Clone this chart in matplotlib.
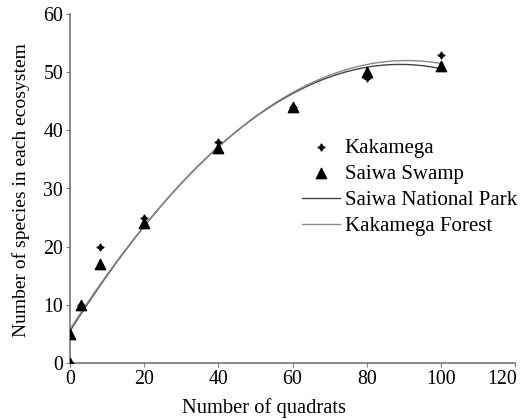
import matplotlib
matplotlib.use("Agg")
import numpy as np
import matplotlib.pyplot as plt
from matplotlib.transforms import ScaledTranslation

# ── Data ──────────────────────────────────────────────────────────────────────
kak_x = [0, 3, 8, 20, 40, 60, 80, 100]
kak_y = [0, 10, 20, 25, 38, 44, 49, 53]

swamp_x = [0, 0, 3, 8, 20, 40, 60, 80, 100]
swamp_y = [0, 5, 10, 17, 24, 37, 44, 50, 51]

# polynomial trendlines (cubic coefficients, highest power first)
park_coef = [-3.0e-6, -0.00525, 1.006, 5.5]
forest_coef = [-3.3e-6, -0.0050, 0.99, 5.8]

x_ticks = [0, 20, 40, 60, 80, 100, 120]
y_ticks = [0, 10, 20, 30, 40, 50, 60]

plt.rcParams["font.family"] = ["Liberation Serif", "DejaVu Serif"]

fig = plt.figure(figsize=(5.21, 4.19), dpi=100)
ax = fig.add_axes([70 / 521, 1 - 363 / 419, 445 / 521, 349 / 419])

xs = np.linspace(0, 100, 200)
ax.plot(xs, np.polyval(park_coef, xs), color="#444444", lw=1.0,
        label="Saiwa National Park", zorder=2)
ax.plot(xs, np.polyval(forest_coef, xs), color="#8a8a8a", lw=1.0,
        label="Kakamega Forest", zorder=2)
ax.scatter(swamp_x, swamp_y, marker="^", s=55, color="black",
           label="Saiwa Swamp", zorder=3)
ax.scatter(kak_x, kak_y, marker=(4, 1, 0), s=24, color="black",
           label="Kakamega", zorder=4)

ax.set_xlim(0, 120)
ax.set_ylim(0, 60)
ax.set_xticks(x_ticks)
ax.set_yticks(y_ticks)
ax.tick_params(labelsize=14.3, length=3, width=0.8, color="#777777", pad=2)
for side in ["top", "right"]:
    ax.spines[side].set_visible(False)
for side in ["left", "bottom"]:
    ax.spines[side].set_color("#777777")
    ax.spines[side].set_linewidth(1.2)

# last x tick label is pushed in so it stays inside the figure
last = ax.get_xticklabels()[-1]
last.set_horizontalalignment("right")
last.set_transform(last.get_transform() + ScaledTranslation(2 / 100, 0, fig.dpi_scale_trans))

fig.text(264 / 521, 1 - 408 / 419, "Number of quadrats", ha="center",
         va="center", fontsize=14.8)
fig.text(21 / 521, 1 - 190 / 419, "Number of species in each ecosystem",
         ha="center", va="center", rotation=90, fontsize=14)

handles, labels = ax.get_legend_handles_labels()
order = [3, 2, 0, 1]
ax.legend([handles[i] for i in order], [labels[i] for i in order],
          frameon=False, fontsize=15, loc="upper left",
          bbox_to_anchor=(302 / 521, 1 - 138 / 419),
          bbox_transform=fig.transFigure, handlelength=1.8,
          handletextpad=0.25, labelspacing=0.32, borderpad=0, borderaxespad=0)

fig.savefig("out.png", dpi=100)
